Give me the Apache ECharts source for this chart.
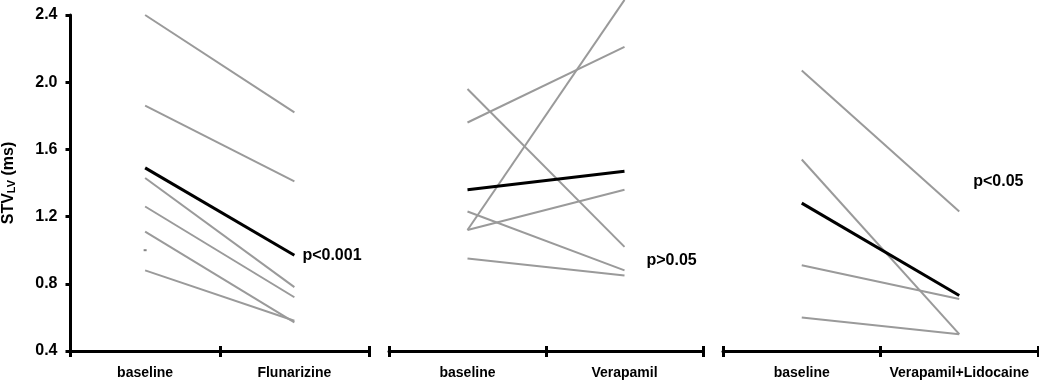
<!DOCTYPE html>
<html>
<head>
<meta charset="utf-8">
<script src="https://cdn.jsdelivr.net/npm/echarts@6/dist/echarts.min.js"></script>
<style>
html,body{margin:0;padding:0;background:#fff;}
#chart{width:1039px;height:381px;}
</style>
</head>
<body>
<div id="chart"></div>
<script>
// ---- data ----
const yTicks = [0.4, 0.8, 1.2, 1.6, 2.0, 2.4];
const cats1 = ['baseline', 'Flunarizine'];
const cats2 = ['baseline', 'Verapamil'];
const cats3 = ['baseline', 'Verapamil+Lidocaine'];

const flunGray = [[2.40, 1.82], [1.86, 1.41], [1.43, 0.78], [1.26, 0.72], [1.11, 0.57], [0.88, 0.58]];
const flunMean = [1.49, 0.97];
const flunDot = [1.00];

const verGray = [[1.12, 2.49], [1.76, 2.21], [1.96, 1.02], [1.12, 1.36], [1.23, 0.88], [0.95, 0.85]];
const verMean = [1.36, 1.47];

const lidGray = [[2.07, 1.23], [1.54, 0.50], [0.91, 0.71], [0.60, 0.50]];
const lidMean = [1.28, 0.73];

const pTexts = ['p<0.001', 'p>0.05', 'p<0.05'];
const pValuesY = [0.97, 0.94, 1.41];

// ---- chart ----
const FONT = 'Liberation Sans, Arial, sans-serif';
const GRAY = '#9a9a9a';
const chart = echarts.init(document.getElementById('chart'), null, {renderer: 'canvas'});

const grids = [
  {left: 68, top: 15, width: 301, height: 336},
  {left: 389, top: 15, width: 314, height: 336},
  {left: 723, top: 15, width: 315, height: 336}
];
const catsList = [cats1, cats2, cats3];
const grayList = [flunGray, verGray, lidGray];
const meanList = [flunMean, verMean, lidMean];
const pOffsets = [[8, 0], [22, 0], [14, 0]];

const xAxis = [];
const yAxis = [];
const series = [];

catsList.forEach((cats, g) => {
  // main x axis: line, outward ticks, labels
  xAxis.push({
    type: 'category', gridIndex: g, data: cats, position: 'bottom',
    boundaryGap: true,
    axisLine: {show: true, lineStyle: {color: '#000', width: 3}},
    axisTick: {show: true, inside: false, length: 6, interval: 0, lineStyle: {color: '#000', width: 3}},
    axisLabel: {show: true, interval: 0, hideOverlap: false, margin: 15, color: '#000',
      fontFamily: FONT, fontWeight: 'bold', fontSize: 14}
  });
  // secondary x axis: inward ticks only
  xAxis.push({
    type: 'category', gridIndex: g, data: cats, position: 'bottom',
    boundaryGap: true,
    axisLine: {show: false},
    axisTick: {show: true, inside: true, length: 5, interval: 0, lineStyle: {color: '#000', width: 3}},
    axisLabel: {show: false}
  });
  yAxis.push({
    type: 'value', gridIndex: g, min: yTicks[0], max: yTicks[yTicks.length - 1], interval: 0.4,
    show: g === 0,
    splitLine: {show: false},
    axisLine: {show: true, lineStyle: {color: '#000', width: 3}},
    axisTick: {show: true, inside: false, length: 5, lineStyle: {color: '#000', width: 3}},
    axisLabel: {
      show: true, margin: 13, color: '#000', fontFamily: FONT, fontWeight: 'bold', fontSize: 16,
      formatter: v => v.toFixed(1)
    },
    name: g === 0 ? '{m|STV}{s|LV}{m| (ms)}' : '',
    nameLocation: 'middle',
    nameGap: 53,
    nameTextStyle: {
      rich: {
        m: {fontFamily: FONT, fontWeight: 'bold', fontSize: 16, color: '#000'},
        s: {fontFamily: FONT, fontWeight: 'bold', fontSize: 11, color: '#000', padding: [6, 0, 0, 0]}
      }
    }
  });

  grayList[g].forEach(pair => {
    series.push({
      type: 'line', xAxisIndex: g * 2, yAxisIndex: g, data: pair,
      symbol: 'none', clip: false, silent: true,
      lineStyle: {color: GRAY, width: 2}, z: 2
    });
  });
  series.push({
    type: 'line', xAxisIndex: g * 2, yAxisIndex: g, data: meanList[g],
    symbol: 'none', clip: false, silent: true,
    lineStyle: {color: '#000', width: 3}, z: 3,
    markPoint: {
      symbol: 'circle', symbolSize: 0, silent: true,
      data: [{
        coord: [1, pValuesY[g]],
        label: {
          show: true, position: 'right', distance: 0, offset: pOffsets[g],
          formatter: pTexts[g], color: '#000', fontFamily: FONT, fontWeight: 'bold', fontSize: 16
        }
      }]
    }
  });
});

// small isolated mark in panel 1
series.push({
  type: 'scatter', xAxisIndex: 0, yAxisIndex: 0,
  data: flunDot.map(v => [0, v]),
  symbol: 'rect', symbolSize: [3, 2], itemStyle: {color: '#666'}, silent: true, z: 2
});

chart.setOption({
  animation: false,
  backgroundColor: '#fff',
  grid: grids,
  xAxis: xAxis,
  yAxis: yAxis,
  series: series
});
</script>
</body>
</html>
